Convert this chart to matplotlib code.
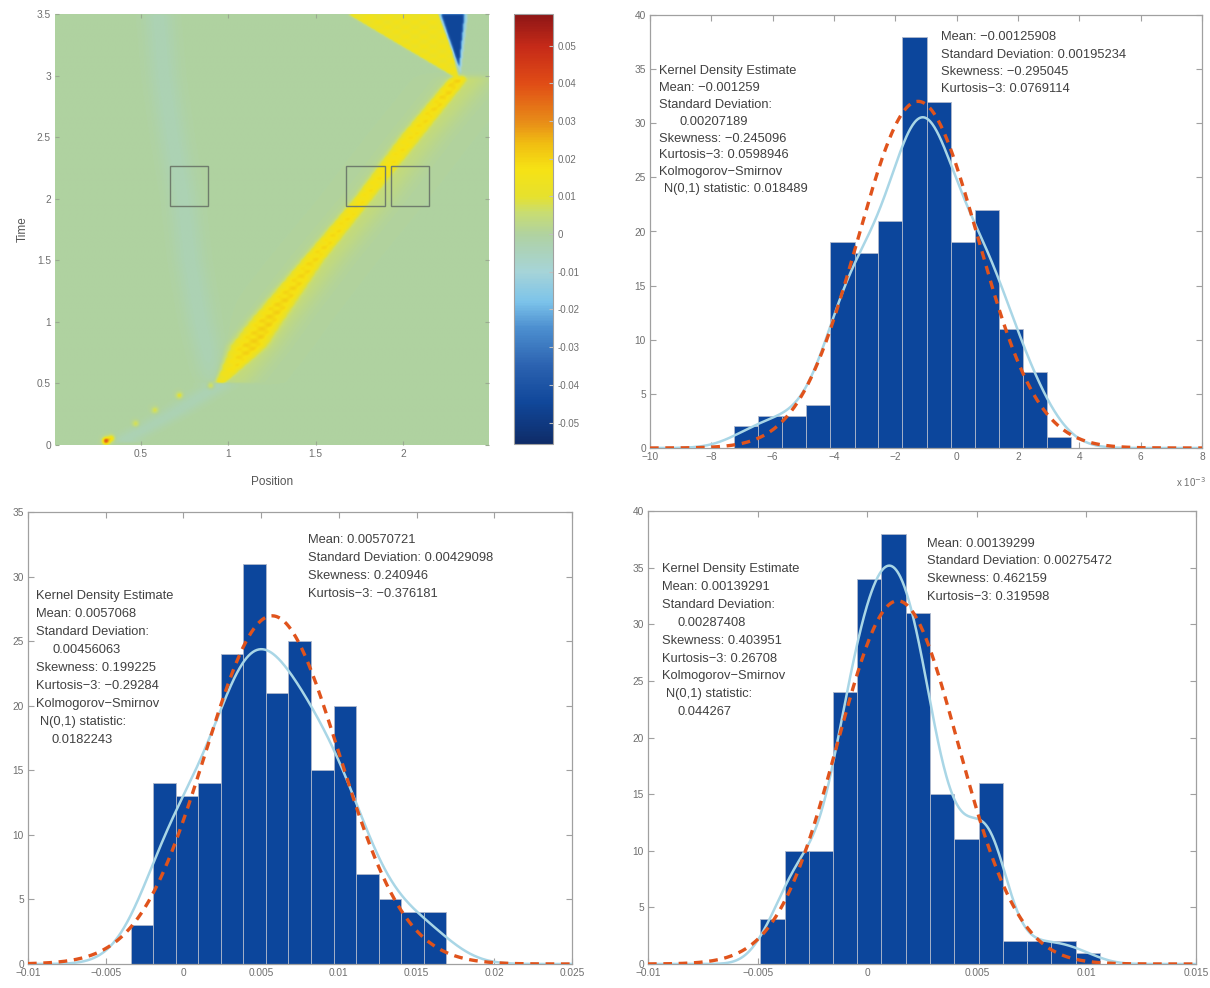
import numpy as np
import matplotlib
matplotlib.use('Agg')
import matplotlib.pyplot as plt
from matplotlib.colors import LinearSegmentedColormap, Normalize
from matplotlib.patches import Rectangle
from matplotlib.path import Path

plt.rcParams['font.family'] = ['Liberation Sans', 'DejaVu Sans']

# ---------------- heatmap description ----------------
ridge_time = [0.50, 0.80, 1.00, 1.50, 2.00, 2.50, 2.97, 3.02]
ridge_pos = [0.95, 1.11, 1.21, 1.48, 1.77, 2.04, 2.31, 2.33]
ridge_halfwidth = [0.03, 0.10, 0.09, 0.06, 0.05, 0.06, 0.05, 0.02]
ridge_value = [0.014, 0.017, 0.017, 0.016, 0.015, 0.015, 0.017, 0.0]

pale_time = [0.05, 0.25, 0.47, 1.00, 1.50, 2.00, 2.50, 3.00, 3.50]
pale_pos = [0.42, 0.68, 0.93, 0.84, 0.78, 0.74, 0.68, 0.63, 0.60]
pale_value = -0.0035

spot_pos = [0.30, 0.33, 0.47, 0.58, 0.72, 0.90]
spot_time = [0.03, 0.05, 0.17, 0.28, 0.40, 0.48]
spot_value = [0.045, 0.02, 0.01, 0.01, 0.012, 0.012]

fan_pos = [2.32, 1.69, 2.23]
fan_time = [2.97, 3.50, 3.50]
fan_value = 0.016
blue_pos = [2.22, 2.35, 2.32]
blue_time = [3.50, 3.50, 3.08]
blue_value = -0.045

box_left = [0.666, 1.673, 1.929]
box_bottom = [1.94, 1.94, 1.94]
box_width = 0.22
box_height = 0.325

cbar_ticks = [-0.05, -0.04, -0.03, -0.02, -0.01, 0, 0.01, 0.02, 0.03, 0.04, 0.05]
cbar_labels = ['-0.05', '-0.04', '-0.03', '-0.02', '-0.01', '0', '0.01', '0.02', '0.03', '0.04', '0.05']
c_min, c_max = -0.0557, 0.0584

# ---------------- histogram data ----------------
h1_edges = [-0.00725, -0.00647, -0.00568, -0.00490, -0.00412, -0.00333, -0.00255,
            -0.00177, -0.00098, -0.00020, 0.00059, 0.00137, 0.00215, 0.00294, 0.00372]
h1_counts = [2, 3, 3, 4, 19, 18, 21, 38, 32, 19, 22, 11, 7, 1]
h1_mean, h1_std = -0.00125908, 0.00195234
h1_bw = 0.00079

h2_edges = [-0.00339, -0.00194, -0.00049, 0.00096, 0.00241, 0.00386, 0.00531, 0.00676,
            0.00821, 0.00966, 0.01111, 0.01256, 0.01401, 0.01546, 0.01691]
h2_counts = [3, 14, 13, 14, 24, 31, 21, 25, 15, 20, 7, 5, 4, 4]
h2_mean, h2_std = 0.00570721, 0.00429098
h2_bw = 0.00185

h3_edges = [-0.00488, -0.00377, -0.00267, -0.00156, -0.00045, 0.00065, 0.00176, 0.00287,
            0.00397, 0.00508, 0.00619, 0.00730, 0.00840, 0.00951, 0.01062]
h3_counts = [4, 10, 10, 24, 34, 38, 31, 15, 11, 16, 2, 2, 2, 1]
h3_mean, h3_std = 0.00139299, 0.00275472
h3_bw = 0.00083

h1_stats = ["Mean: \u22120.00125908", "Standard Deviation: 0.00195234",
            "Skewness: \u22120.295045", "Kurtosis\u22123: 0.0769114"]
h1_kde = ["Kernel Density Estimate", "Mean: \u22120.001259", "Standard Deviation:",
          "0.00207189", "Skewness: \u22120.245096", "Kurtosis\u22123: 0.0598946",
          "Kolmogorov\u2212Smirnov", "N(0,1) statistic: 0.018489"]
h2_stats = ["Mean: 0.00570721", "Standard Deviation: 0.00429098",
            "Skewness: 0.240946", "Kurtosis\u22123: \u22120.376181"]
h2_kde = ["Kernel Density Estimate", "Mean: 0.0057068", "Standard Deviation:",
          "0.00456063", "Skewness: 0.199225", "Kurtosis\u22123: \u22120.29284",
          "Kolmogorov\u2212Smirnov", "N(0,1) statistic:", "0.0182243"]
h3_stats = ["Mean: 0.00139299", "Standard Deviation: 0.00275472",
            "Skewness: 0.462159", "Kurtosis\u22123: 0.319598"]
h3_kde = ["Kernel Density Estimate", "Mean: 0.00139291", "Standard Deviation:",
          "0.00287408", "Skewness: 0.403951", "Kurtosis\u22123: 0.26708",
          "Kolmogorov\u2212Smirnov", "N(0,1) statistic:", "0.044267"]

# ---------------- styles ----------------
BAR = '#0c469c'
BAR_EDGE = '#aeb8cc'
KDE_C = '#a9d6e6'
NORM_C = '#e0531c'
SPINE = '#a0a0a0'
TICKLBL = '#6e6e6e'
TXT = '#404040'

W, H = 1210, 988
fig = plt.figure(figsize=(W / 100, H / 100), dpi=100)


def fax(l, t, r, b):
    return fig.add_axes([l / W, 1 - b / H, (r - l) / W, (b - t) / H])


def style(ax):
    for s in ax.spines.values():
        s.set_color(SPINE)
        s.set_linewidth(0.9)
    ax.tick_params(direction='in', length=4, width=0.8, color=SPINE,
                   labelcolor=TICKLBL, labelsize=7.3, top=True, right=True, pad=3)


# ---------------- heatmap ----------------
cmap = LinearSegmentedColormap.from_list('wave', [
    (0.000, '#0f2c68'), (0.095, '#10479a'), (0.18, '#2b62b0'), (0.27, '#4d90d0'),
    (0.33, '#7cc3ea'), (0.40, '#a6d4d8'), (0.455, '#acd2b6'), (0.487, '#b0d2a0'),
    (0.54, '#c9dd70'), (0.575, '#e6e12e'), (0.64, '#f6e214'), (0.70, '#f0bd12'),
    (0.75, '#e88c18'), (0.84, '#e04c16'), (0.925, '#c62a18'), (1.0, '#8e1616')])

xs = np.linspace(0.0, 2.5, 500)
ts = np.linspace(0.0, 3.5, 500)
X, T = np.meshgrid(xs, ts)
Z = np.zeros_like(X)

# main ridge
xc = np.interp(T, ridge_time, ridge_pos)
hw = np.interp(T, ridge_time, ridge_halfwidth)
av = np.interp(T, ridge_time, ridge_value, left=0.0, right=0.0)
mod = 0.88 + 0.14 * np.sin(95 * T) * np.sin(70 * X)
Z += av * mod * np.exp(-((X - xc) / hw) ** 4)
Z += 0.3 * av * np.exp(-((X - xc - 0.06) / 0.13) ** 2)

# pale ridge
pc = np.interp(T, pale_time, pale_pos)
Z += pale_value * np.exp(-((X - pc) / 0.09) ** 2) * (T > 0.02)

# isolated spots
for sx, st, sv in zip(spot_pos, spot_time, spot_value):
    Z += sv * np.exp(-(((X - sx) / 0.018) ** 2 + ((T - st) / 0.025) ** 2))

pts = np.column_stack([X.ravel(), T.ravel()])
fan = Path(list(zip(fan_pos, fan_time))).contains_points(pts).reshape(X.shape)
Z[fan] = fan_value * (0.88 + 0.14 * np.sin(80 * T[fan]) * np.sin(60 * X[fan]))
blue_outer = Path(list(zip([blue_pos[0] - 0.015, blue_pos[1] + 0.02, blue_pos[2] + 0.01],
                           [blue_time[0], blue_time[1], blue_time[2] - 0.06]))
                  ).contains_points(pts).reshape(X.shape)
Z[blue_outer] = -0.014
blue = Path(list(zip(blue_pos, blue_time))).contains_points(pts).reshape(X.shape)
Z[blue] = blue_value

# soft edges
k = np.exp(-np.linspace(-2, 2, 7) ** 2)
k /= k.sum()
Zs = np.apply_along_axis(lambda r: np.convolve(r, k, mode='same'), 1, Z)
Zs = np.apply_along_axis(lambda c: np.convolve(c, k, mode='same'), 0, Zs)

ax0 = fax(55, 14, 489, 445)
norm = Normalize(vmin=c_min, vmax=c_max)
im = ax0.imshow(Zs, origin='lower', extent=[0.0, 2.5, 0.0, 3.5], aspect='auto',
                cmap=cmap, norm=norm, interpolation='bilinear')
ax0.set_xlim(0.01, 2.49)
ax0.set_ylim(0, 3.5)
ax0.set_xticks([0.5, 1, 1.5, 2])
ax0.set_xticklabels(['0.5', '1', '1.5', '2'])
ax0.set_yticks([0, 0.5, 1, 1.5, 2, 2.5, 3, 3.5])
ax0.set_yticklabels(['0', '0.5', '1', '1.5', '2', '2.5', '3', '3.5'])
style(ax0)
ax0.tick_params(color='#9aaa90', length=3)
for s in ax0.spines.values():
    s.set_visible(False)
for bl, bb in zip(box_left, box_bottom):
    ax0.add_patch(Rectangle((bl, bb), box_width, box_height, fill=False,
                            edgecolor='#6f7c6c', linewidth=1.0))
ax0.set_xlabel('Position', fontsize=8.5, color='#555555', labelpad=12)
ax0.set_ylabel('Time', fontsize=8.5, color='#555555', labelpad=6)

cax = fax(514, 14, 553, 444)
cb = fig.colorbar(im, cax=cax, ticks=cbar_ticks)
cb.ax.set_yticklabels(cbar_labels)
cb.outline.set_edgecolor(SPINE)
cb.outline.set_linewidth(0.8)
cb.ax.tick_params(direction='in', length=3, color='#c0c0c0', labelcolor=TICKLBL,
                  labelsize=7.0, pad=3)


# ---------------- histograms ----------------
def hist_panel(rect, edges, counts, mu, sd, bw, xlim, xticks, xlabels, ylim,
               stats, stats_xy, stats_dy, kde_lines, kde_xy, kde_dy, indents):
    ax = fax(*rect)
    edges = np.asarray(edges)
    counts = np.asarray(counts, float)
    widths = np.diff(edges)
    ax.bar(edges[:-1], counts, width=widths, align='edge', color=BAR,
           edgecolor=BAR_EDGE, linewidth=0.6, zorder=2)
    n = counts.sum()
    w = widths.mean()
    xg = np.linspace(xlim[0], xlim[1], 800)
    centers = edges[:-1] + widths / 2
    kde = (counts[None, :] * w / (bw * np.sqrt(2 * np.pi)) *
           np.exp(-0.5 * ((xg[:, None] - centers[None, :]) / bw) ** 2)).sum(axis=1)
    ax.plot(xg, kde, color=KDE_C, lw=1.8, zorder=3)
    normal = n * w / (sd * np.sqrt(2 * np.pi)) * np.exp(-0.5 * ((xg - mu) / sd) ** 2)
    ax.plot(xg, normal, color=NORM_C, lw=2.4, ls=(0, (2.6, 2.0)), zorder=4)
    ax.set_xlim(*xlim)
    ax.set_ylim(*ylim)
    ax.set_xticks(xticks)
    ax.set_xticklabels(xlabels)
    ax.set_yticks(np.arange(0, ylim[1] + 1, 5))
    style(ax)
    for i, s in enumerate(stats):
        ax.text(stats_xy[0], stats_xy[1] - i * stats_dy, s, fontsize=9.3, color=TXT,
                va='center', ha='left', zorder=5)
    for i, s in enumerate(kde_lines):
        x0 = indents.get(i, kde_xy[0])
        ax.text(x0, kde_xy[1] - i * kde_dy, s, fontsize=9.3, color=TXT,
                va='center', ha='left', zorder=5)
    return ax


ax1 = hist_panel((650, 15, 1202, 448), h1_edges, h1_counts, h1_mean, h1_std, h1_bw,
                 (-0.010, 0.008), [i * 0.002 for i in range(-5, 5)],
                 ['\u221210', '\u22128', '\u22126', '\u22124', '\u22122', '0', '2', '4', '6', '8'],
                 (0, 40), h1_stats, (-0.0005, 37.94), 1.60, h1_kde, (-0.0097, 34.84), 1.563,
                 {3: -0.00903, 7: -0.00955})
fig.text(1176 / W, 1 - 482 / H, 'x 10$^{-3}$', fontsize=7, color=TICKLBL, ha='left', va='center')

ax2 = hist_panel((28, 512, 572, 964), h2_edges, h2_counts, h2_mean, h2_std, h2_bw,
                 (-0.010, 0.025), [-0.01, -0.005, 0, 0.005, 0.01, 0.015, 0.02, 0.025],
                 ['\u22120.01', '\u22120.005', '0', '0.005', '0.01', '0.015', '0.02', '0.025'],
                 (0, 35), h2_stats, (0.00803, 32.8), 1.378, h2_kde, (-0.0095, 28.46), 1.39,
                 {3: -0.0084, 7: -0.0092, 8: -0.00847})

ax3 = hist_panel((648, 511, 1196, 964), h3_edges, h3_counts, h3_mean, h3_std, h3_bw,
                 (-0.010, 0.015), [-0.01, -0.005, 0, 0.005, 0.01, 0.015],
                 ['\u22120.01', '\u22120.005', '0', '0.005', '0.01', '0.015'],
                 (0, 40), h3_stats, (0.00275, 37.1), 1.555, h3_kde, (-0.00937, 34.86), 1.577,
                 {3: -0.00865, 7: -0.0092, 8: -0.00865})

fig.savefig('out.png', dpi=100)
